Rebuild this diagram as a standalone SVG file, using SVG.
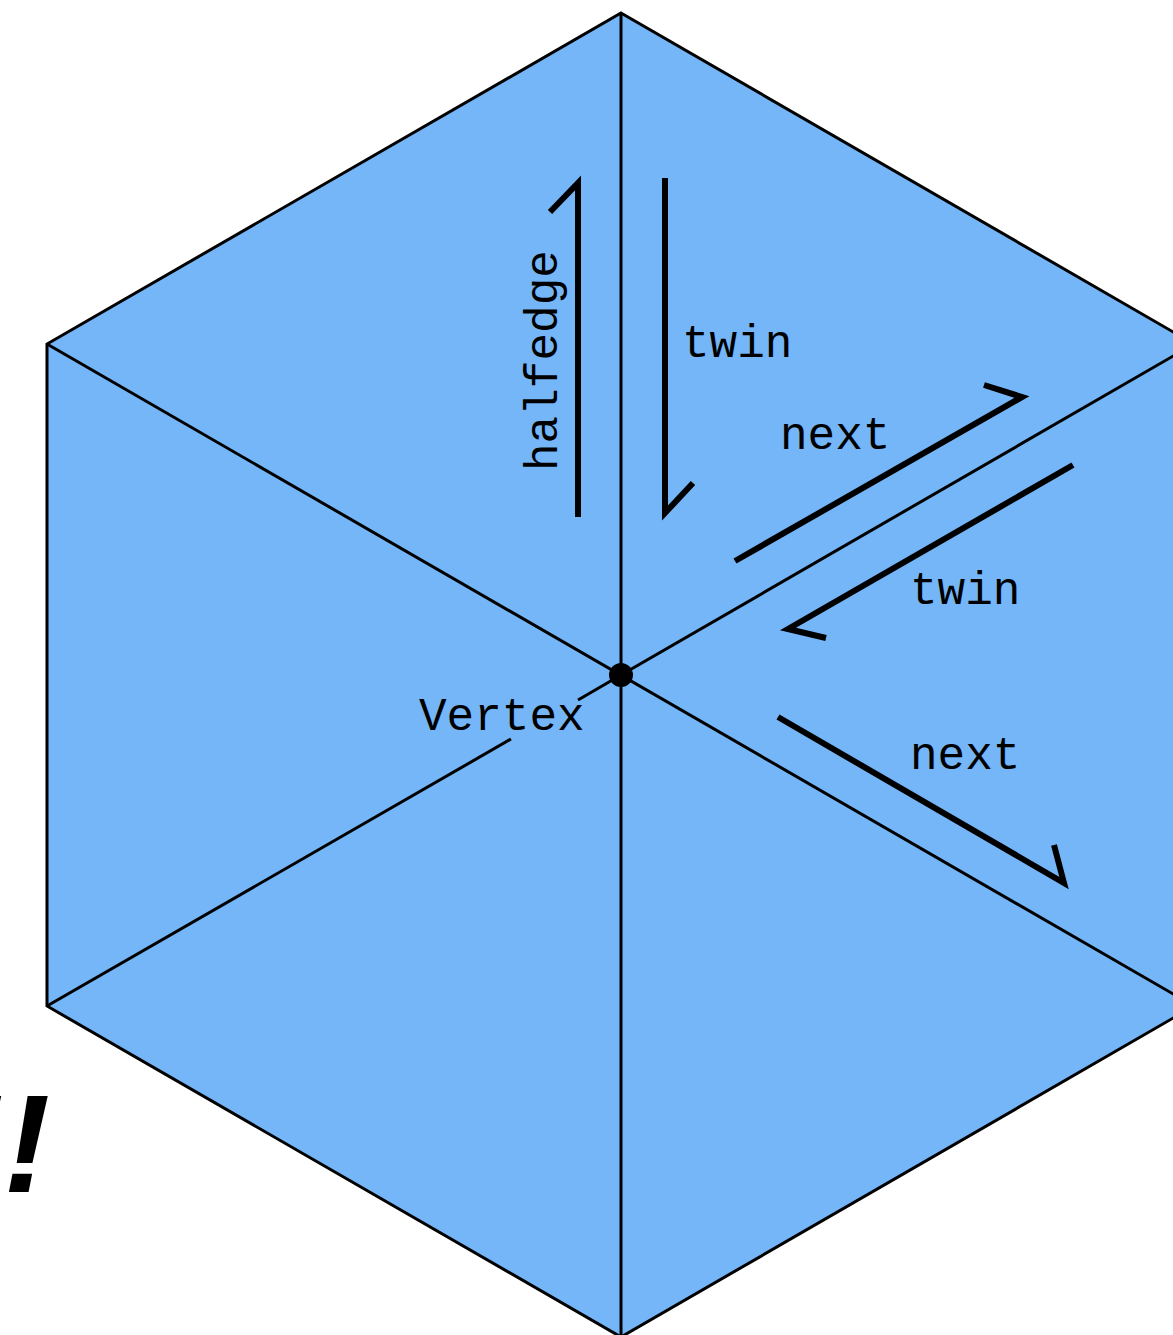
<svg xmlns="http://www.w3.org/2000/svg" width="1173" height="1335" viewBox="0 0 1173 1335">
<style>
.edge{stroke:#000;stroke-width:3;fill:none;stroke-linecap:butt}
.he{stroke:#000;stroke-width:6;fill:none;stroke-linecap:butt;stroke-linejoin:miter}
.lbl{font-family:"Liberation Mono","Courier New",monospace;font-size:46px;fill:#000}
.bang{font-family:"Liberation Sans",Arial,sans-serif;font-weight:bold;font-style:italic;font-size:140px;fill:#000}
</style>
<rect width="1173" height="1335" fill="#fff"/>
<g id="mesh">
<polygon points="621,13 1194,344 1194,1006 621,1337 47,1006 47,344" fill="#74B6F7" stroke="#000" stroke-width="3"/>
</g>
<g id="connectors">
<line class="edge" x1="621" y1="13" x2="621" y2="1337"/>
<line class="edge" x1="47" y1="344" x2="1194" y2="1006"/>
<line class="edge" x1="621" y1="675" x2="1194" y2="344"/>
<line class="edge" x1="621" y1="675" x2="578" y2="700"/>
<line class="edge" x1="511" y1="739" x2="47" y2="1006"/>
<polyline class="he" points="578,517 578,183 550,212"/>
<polyline class="he" points="665,178 665,513 693,483"/>
<polyline class="he" points="735,561 1022,397 984,385"/>
<polyline class="he" points="1073,465 788,629 826,638"/>
<polyline class="he" points="778,717 1064,883 1054,845"/>
</g>
<g id="vertex">
<circle cx="621" cy="675" r="12" fill="#000"/>
<text class="lbl" x="419" y="730">Vertex</text>
</g>
<g id="labels">
<text class="lbl" transform="translate(557,471) rotate(-90)">halfedge</text>
<text class="lbl" x="682" y="357">twin</text>
<text class="lbl" x="780" y="449">next</text>
<text class="lbl" x="910" y="604">twin</text>
<text class="lbl" x="910" y="769">next</text>
</g>
<g id="exclaim">
<text class="bang" x="-43" y="1192">!!</text>
</g>
</svg>
